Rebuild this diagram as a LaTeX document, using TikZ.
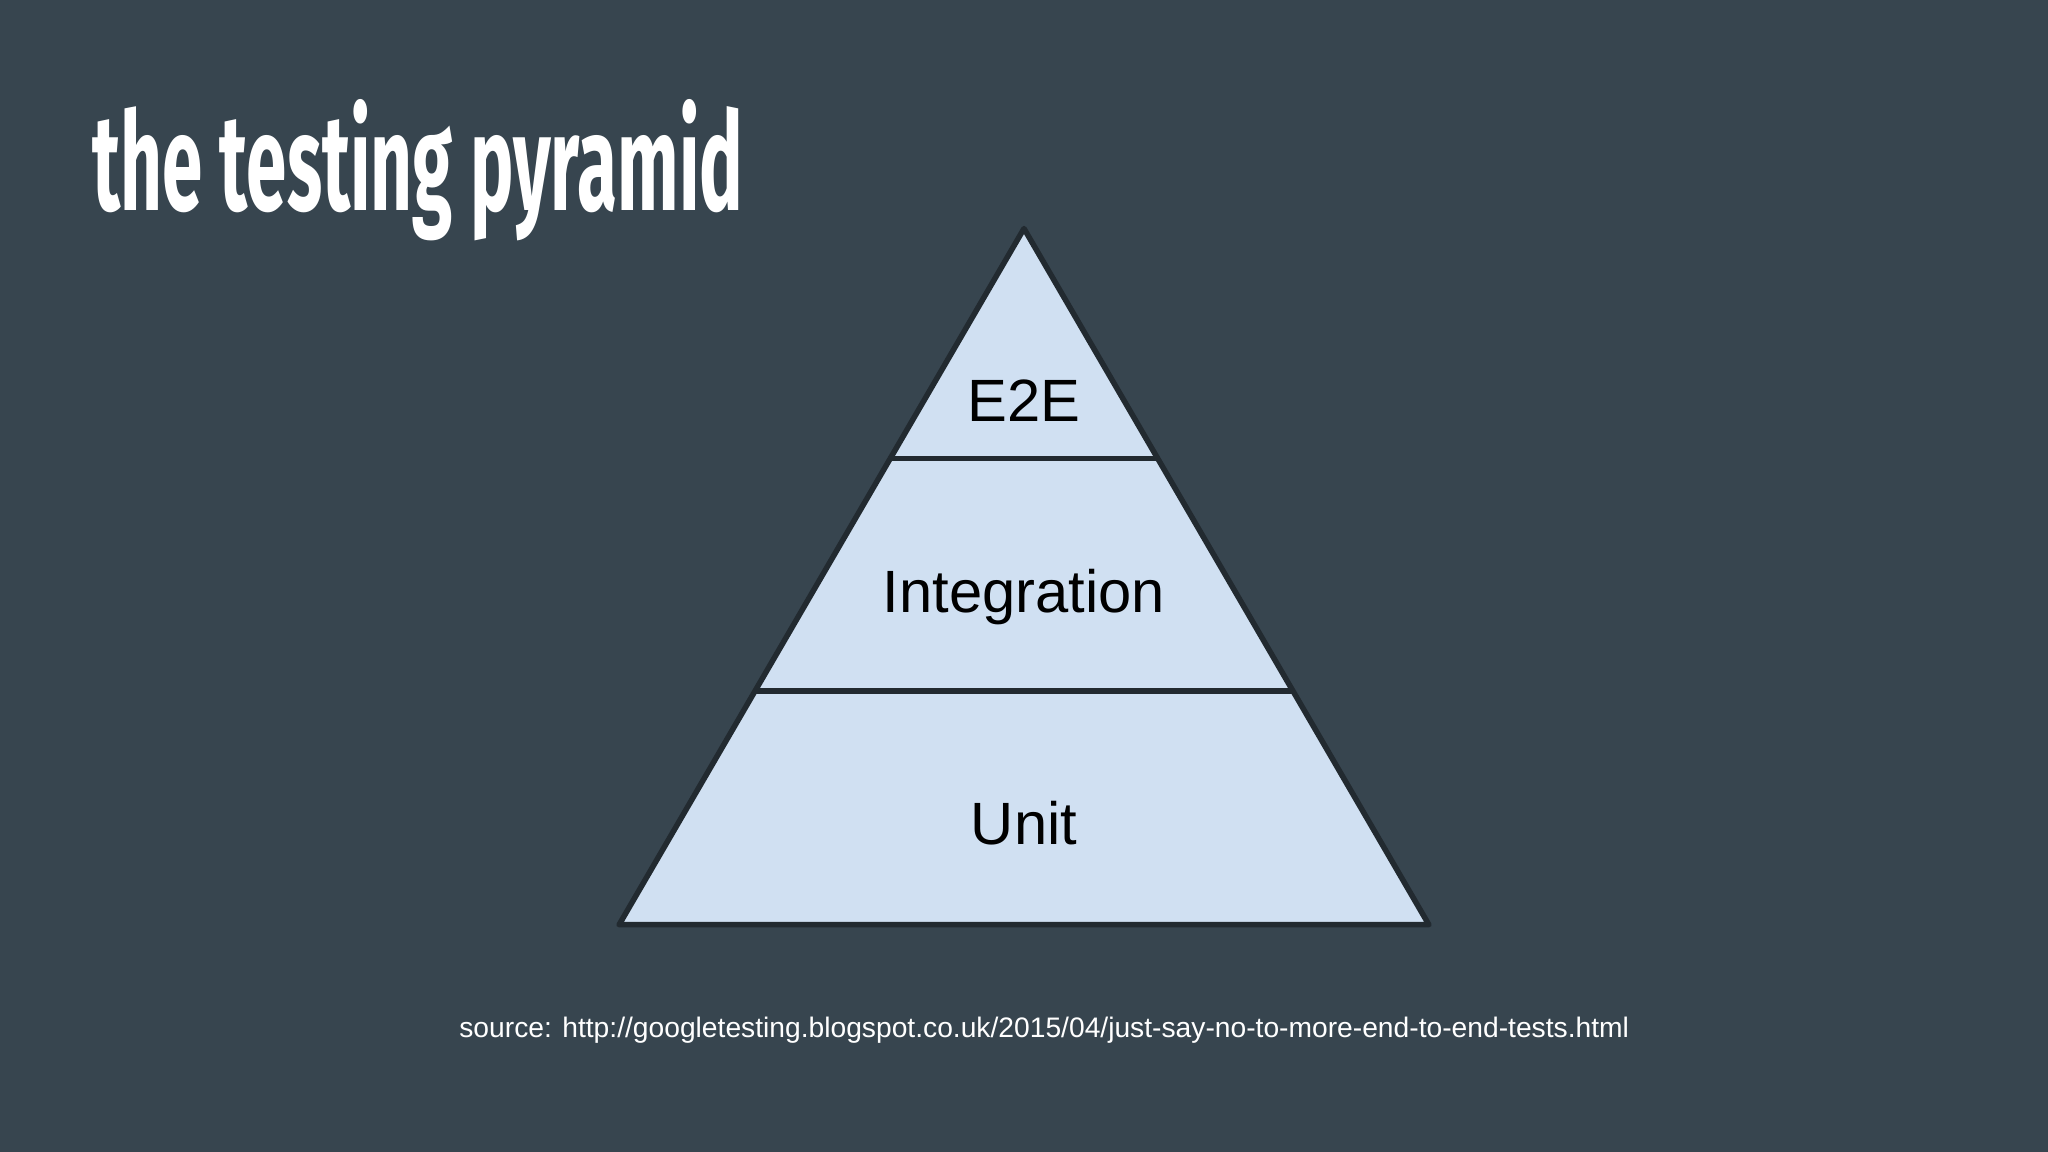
\documentclass[tikz,border=0pt]{standalone}
\usepackage{fontspec}
\setmainfont{Liberation Sans}
\newfontfamily\titlefont{Fira Sans}
\definecolor{bg}{HTML}{37454F}
\definecolor{pyr}{HTML}{D0E0F2}
\definecolor{edge}{HTML}{222A30}
\tikzset{lbl/.style={font=\fontsize{13pt}{15pt}\selectfont, text=black, inner sep=0pt}}
\begin{document}
\begin{tikzpicture}[x=0.01cm,y=-0.01cm]
\fill[bg] (0,0) rectangle (1568,882);
\useasboundingbox (0,0) rectangle (1568,882);
\coordinate (A) at (784,175);
\coordinate (BL) at (474,708);
\coordinate (BR) at (1094,708);
\fill[pyr] (A) -- (BR) -- (BL) -- cycle;
\draw[edge, line width=1.2pt, line join=round] (A) -- (BR) -- (BL) -- cycle;
\coordinate (L1) at (681.6,351);
\coordinate (R1) at (886.4,351);
\coordinate (L2) at (578.1,529);
\coordinate (R2) at (989.9,529);
\draw[edge, line width=1.2pt] (L1) -- (R1);
\draw[edge, line width=1.2pt] (L2) -- (R2);
\node[lbl] (e2e) at (784,307) {E2E};
\node[lbl] (int) at (784,457) {Integration};
\node[lbl] (unit) at (784,630) {Unit};
\node[inner sep=0pt, text=white, anchor=west] (src) at (351,789) {\resizebox{8.95cm}{!}{source: http://googletesting.blogspot.co.uk/2015/04/just-say-no-to-more-end-to-end-tests.html}};
\node[inner sep=0pt, text=white, anchor=west] (ttl) at (70,130) {\resizebox{4.98cm}{0.85cm}{\titlefont\bfseries the testing pyramid}};
\end{tikzpicture}
\end{document}
